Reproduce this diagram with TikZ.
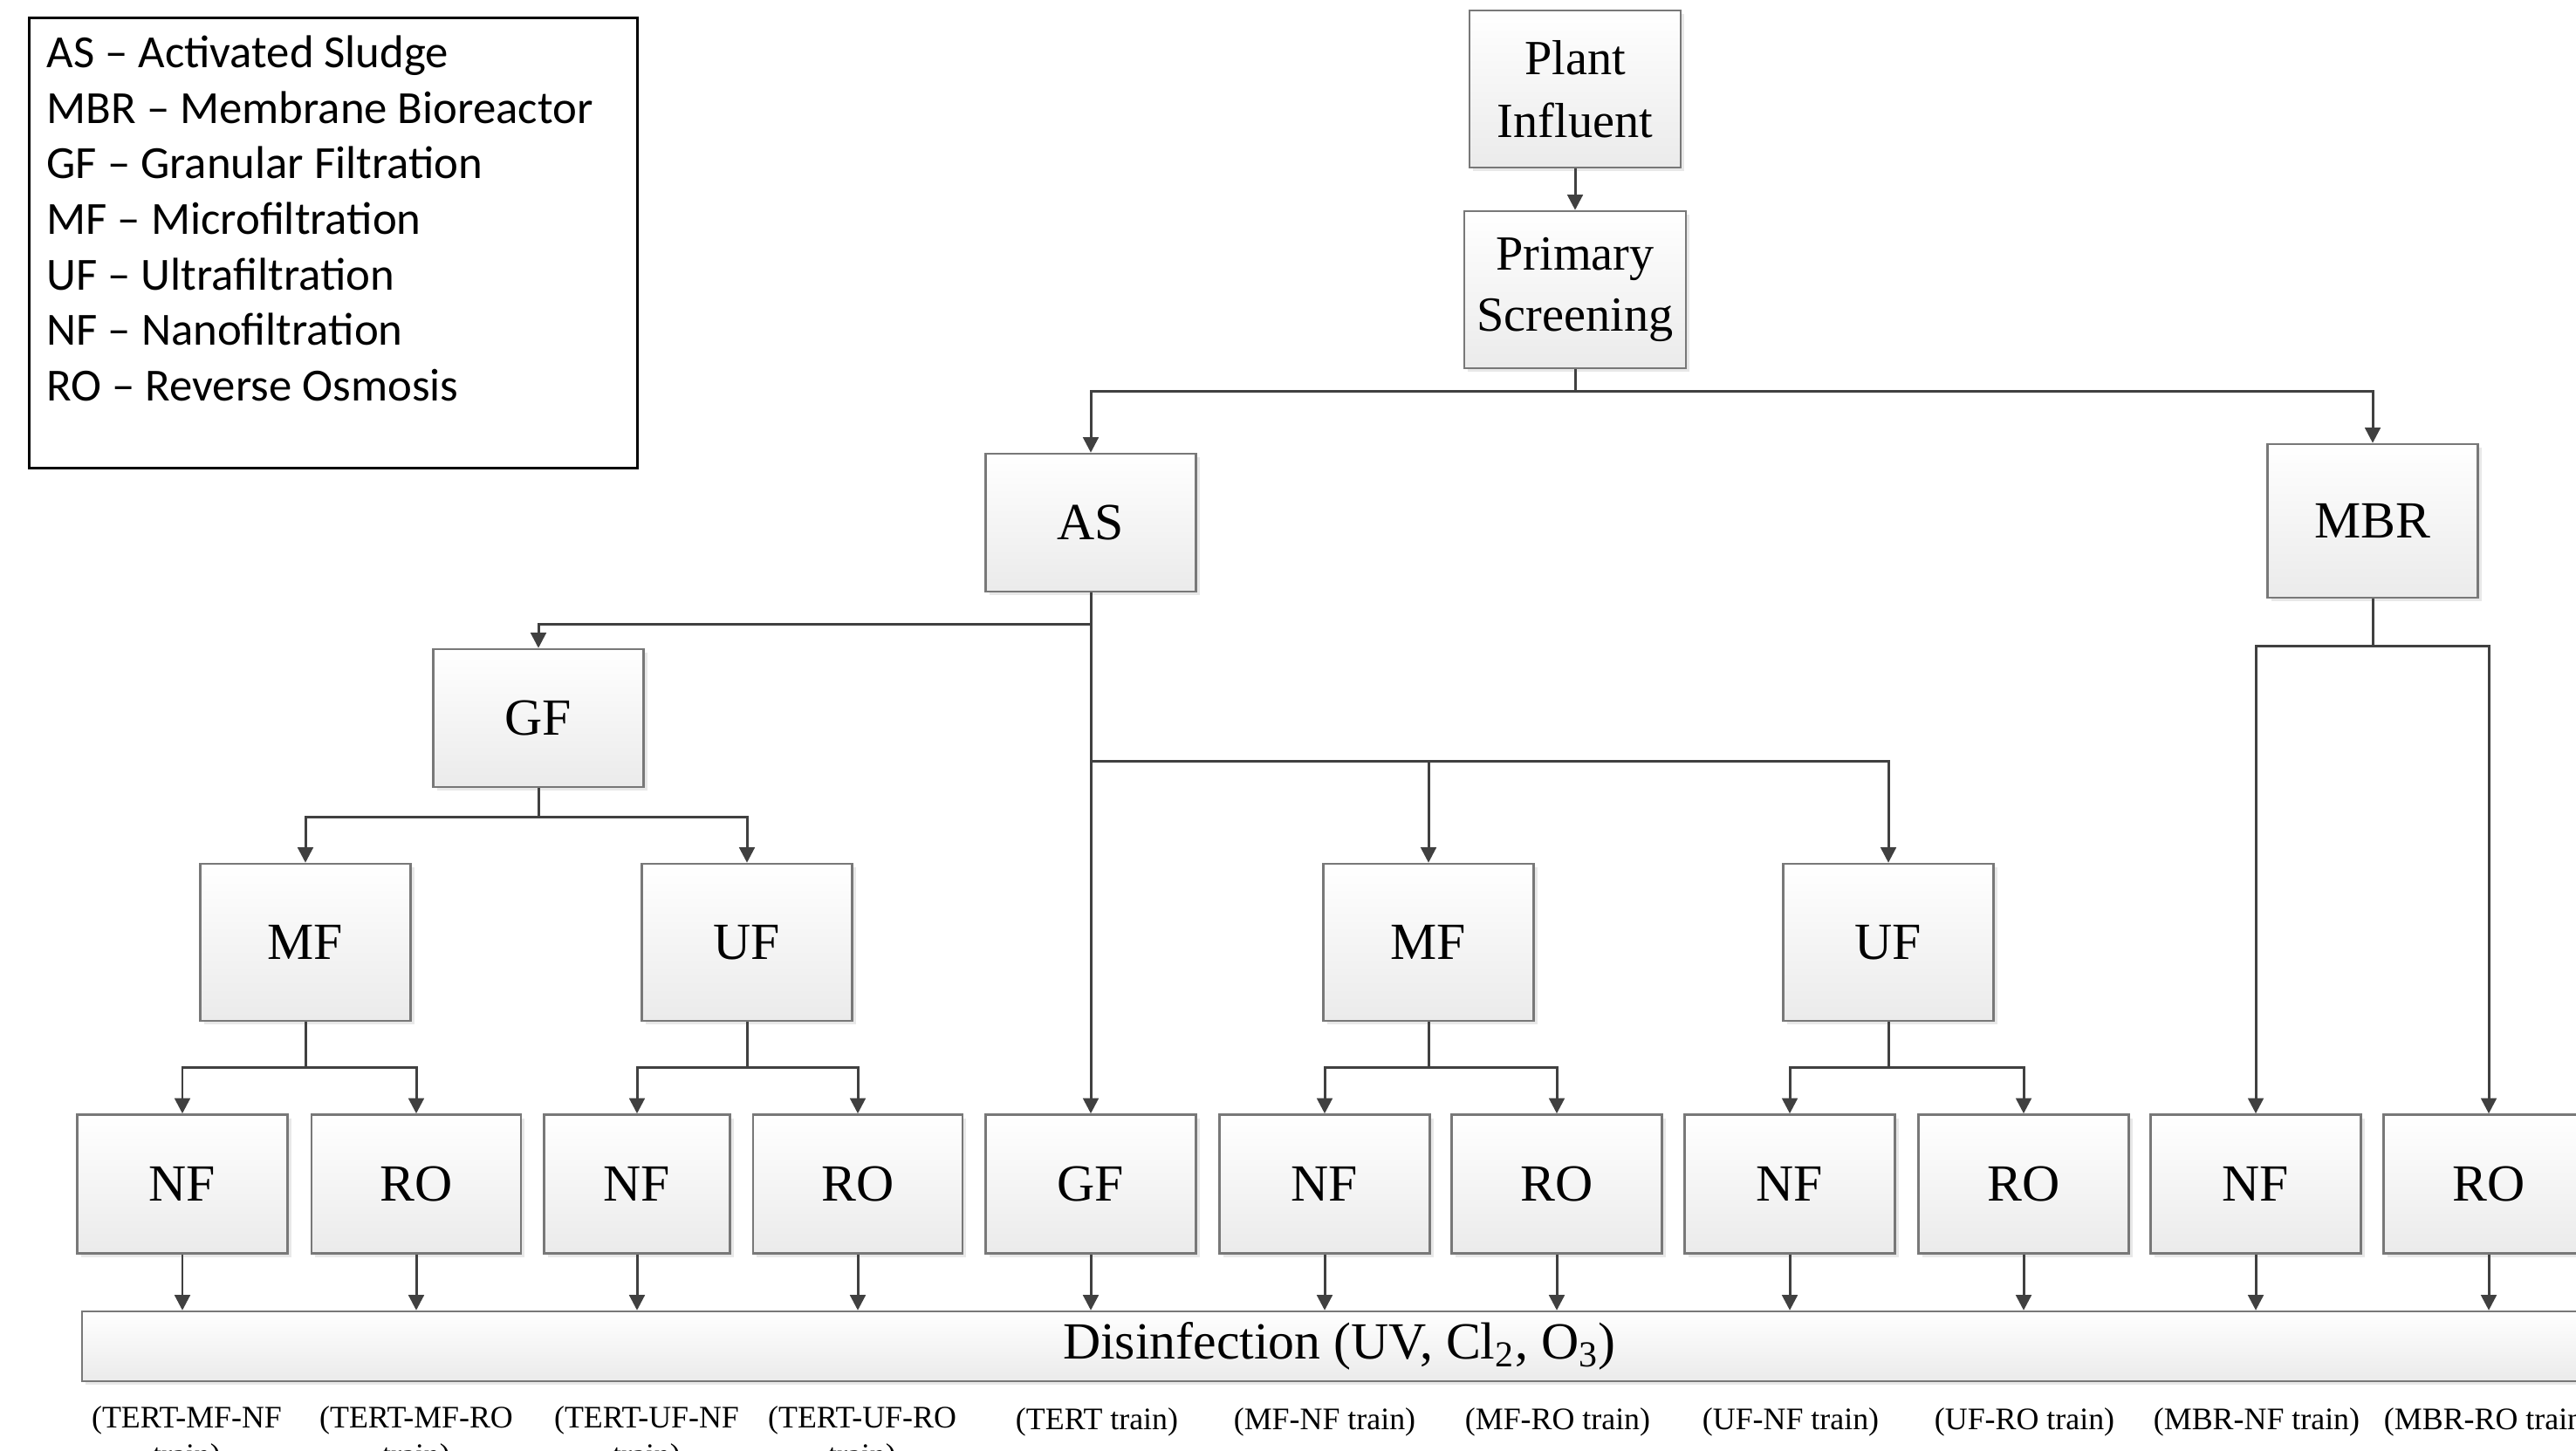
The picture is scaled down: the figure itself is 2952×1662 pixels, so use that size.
\documentclass[tikz,border=0pt]{standalone}
\usepackage{fontspec}
\setmainfont{Liberation Serif}
\newfontfamily\legendfont{Carlito}
\usetikzlibrary{arrows.meta,shadows}
\definecolor{linegray}{HTML}{404040}
\definecolor{boxedge}{HTML}{787878}
\begin{document}
\begin{tikzpicture}[x=0.01cm,y=-0.01cm,
  pbox/.style={draw=boxedge, line width=0.7pt, top color=white, bottom color=black!8,
    minimum width=2.41cm, minimum height=1.59cm, inner sep=0pt,
    font=\fontsize{17}{20}\selectfont,
    drop shadow={shadow xshift=1.2pt, shadow yshift=-1.2pt, opacity=0.18}},
  conn/.style={draw=linegray, line width=0.85pt},
  arr/.style={conn, -{Triangle[length=5pt,width=5pt]}},
  lbl/.style={font=\fontsize{10.2}{12}\selectfont, anchor=base, inner sep=0pt},
  legline/.style={font=\legendfont\fontsize{15}{18}\selectfont, anchor=base west, inner sep=0pt}]
\useasboundingbox (0,0) rectangle (2952,1662);
\clip (0,0) rectangle (2952,1662);

% legend
\node[draw=black, line width=0.8pt, minimum width=6.97cm, minimum height=5.16cm,
      anchor=north west, inner sep=0pt] (legend) at (32,19) {};
\node[legline] (leg1) at (53,77)  {AS – Activated Sludge};
\node[legline] (leg2) at (53,141) {MBR – Membrane Bioreactor};
\node[legline] (leg3) at (53,204) {GF – Granular Filtration};
\node[legline] (leg4) at (53,268) {MF – Microfiltration};
\node[legline] (leg5) at (53,332) {UF – Ultrafiltration};
\node[legline] (leg6) at (53,395) {NF – Nanofiltration};
\node[legline] (leg7) at (53,459) {RO – Reverse Osmosis};

% top nodes
\node[pbox, minimum width=2.42cm, minimum height=1.80cm, align=center,
      font=\fontsize{16}{20.5}\selectfont] (plant) at (1805,102) {Plant\\Influent};
\node[pbox, minimum width=2.54cm, minimum height=1.80cm, align=center,
      font=\fontsize{16}{20}\selectfont] (prim) at (1805,332) {Primary\\Screening};
\node[pbox, minimum height=1.58cm] (as) at (1250,599) {AS};
\node[pbox, minimum height=1.76cm] (mbr) at (2719,597) {MBR};
\node[pbox, minimum height=1.58cm] (gf1) at (617,823) {GF};

% middle row
\node[pbox, minimum height=1.80cm] (mf1) at (350,1080) {MF};
\node[pbox, minimum height=1.80cm] (uf1) at (856,1080) {UF};
\node[pbox, minimum height=1.80cm] (mf2) at (1637,1080) {MF};
\node[pbox, minimum height=1.80cm] (uf2) at (2164,1080) {UF};

% bottom row
\node[pbox] (nf1) at (209,1357) {NF};
\node[pbox, minimum width=2.40cm] (ro1) at (477,1357) {RO};
\node[pbox, minimum width=2.13cm] (nf2) at (730,1357) {NF};
\node[pbox, minimum width=2.40cm] (ro2) at (983,1357) {RO};
\node[pbox] (gf2) at (1250,1357) {GF};
\node[pbox] (nf3) at (1518,1357) {NF};
\node[pbox] (ro3) at (1784,1357) {RO};
\node[pbox] (nf4) at (2051,1357) {NF};
\node[pbox] (ro4) at (2319,1357) {RO};
\node[pbox] (nf5) at (2585,1357) {NF};
\node[pbox] (ro5) at (2852,1357) {RO};

% disinfection
\node[pbox, minimum width=28.80cm, minimum height=0.80cm] (dis) at (1535,1543)
  {Disinfection (UV, Cl\textsubscript{2}, O\textsubscript{3})};

% connectors
\draw[arr] (plant) -- (prim);
\coordinate (j1) at (1805,448);
\draw[conn] (prim.south) -- (j1);
\draw[arr] (j1) -| (as.north);
\draw[arr] (j1) -| (mbr.north);

\coordinate (j2) at (1250,715);
\coordinate (j3) at (1250,872);
\draw[arr] (as.south) -- (gf2.north);
\draw[arr] (j2) -| (gf1.north);
\draw[arr] (j3) -| (mf2.north);
\draw[arr] (j3) -| (uf2.north);

\coordinate (j4) at (617,936);
\draw[conn] (gf1.south) -- (j4);
\draw[arr] (j4) -| (mf1.north);
\draw[arr] (j4) -| (uf1.north);

\coordinate (j5) at (350,1223);
\draw[conn] (mf1.south) -- (j5);
\draw[arr] (j5) -| (nf1.north);
\draw[arr] (j5) -| (ro1.north);

\coordinate (j6) at (856,1223);
\draw[conn] (uf1.south) -- (j6);
\draw[arr] (j6) -| (nf2.north);
\draw[arr] (j6) -| (ro2.north);

\coordinate (j7) at (1637,1223);
\draw[conn] (mf2.south) -- (j7);
\draw[arr] (j7) -| (nf3.north);
\draw[arr] (j7) -| (ro3.north);

\coordinate (j8) at (2164,1223);
\draw[conn] (uf2.south) -- (j8);
\draw[arr] (j8) -| (nf4.north);
\draw[arr] (j8) -| (ro4.north);

\coordinate (j9) at (2719,740);
\draw[conn] (mbr.south) -- (j9);
\draw[arr] (j9) -| (nf5.north);
\draw[arr] (j9) -| (ro5.north);

\foreach \n in {nf1,ro1,nf2,ro2,gf2,nf3,ro3,nf4,ro4,nf5,ro5}
  \draw[arr] (\n.south) -- (\n.south |- dis.north);

% train labels
\node[lbl] (l1)  at (214,1636) {(TERT-MF-NF};
\node[lbl] (l1b) at (214,1679) {train)};
\node[lbl] (l2)  at (477,1636) {(TERT-MF-RO};
\node[lbl] (l2b) at (477,1679) {train)};
\node[lbl] (l3)  at (741,1636) {(TERT-UF-NF};
\node[lbl] (l3b) at (741,1679) {train)};
\node[lbl] (l4)  at (988,1636) {(TERT-UF-RO};
\node[lbl] (l4b) at (988,1679) {train)};
\node[lbl] (l5)  at (1257,1638) {(TERT train)};
\node[lbl] (l6)  at (1518,1638) {(MF-NF train)};
\node[lbl] (l7)  at (1785,1638) {(MF-RO train)};
\node[lbl] (l8)  at (2052,1638) {(UF-NF train)};
\node[lbl] (l9)  at (2320,1638) {(UF-RO train)};
\node[lbl] (l10) at (2586,1638) {(MBR-NF train)};
\node[lbl] (l11) at (2852,1638) {(MBR-RO train)};
\end{tikzpicture}
\end{document}
